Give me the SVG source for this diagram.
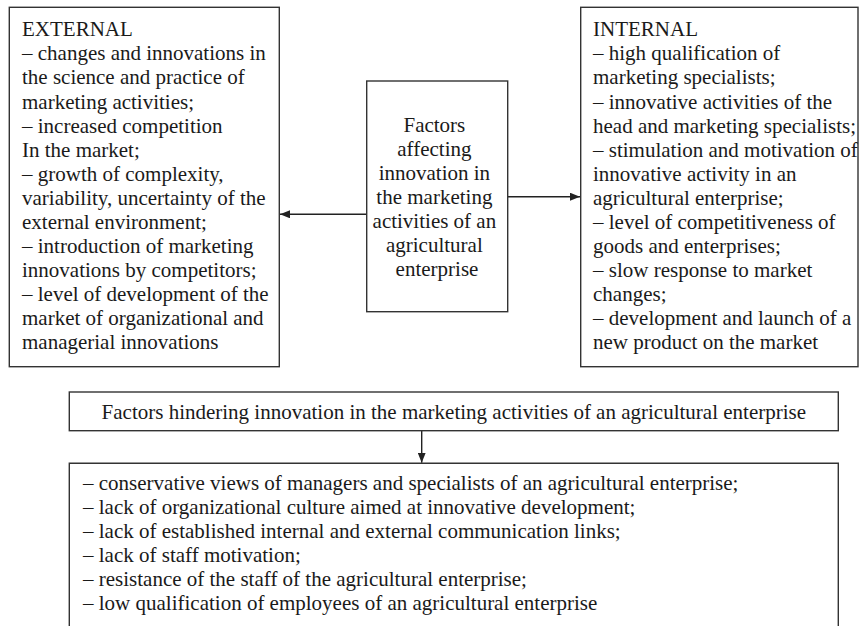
<svg xmlns="http://www.w3.org/2000/svg" width="859" height="626" viewBox="0 0 859 626">
<defs>
<style>
.box{fill:#fff;stroke:#333;stroke-width:1.4}
.t{font-family:"Liberation Serif","Times New Roman",serif;font-size:21px;fill:#1a1a1a}
.c{text-anchor:middle}
.ln{stroke:#222;stroke-width:1.4;fill:none}
</style>
<marker id="ah" markerWidth="10" markerHeight="8" refX="10" refY="4" orient="auto" markerUnits="userSpaceOnUse">
<path d="M0,0 L10,4 L0,8 Z" fill="#222"/>
</marker>
</defs>
<rect width="859" height="626" fill="#fff"/>
<g id="connectors">
<line class="ln" x1="366.7" y1="214.3" x2="280" y2="214.3" marker-end="url(#ah)"/>
<line class="ln" x1="507.7" y1="196.7" x2="580" y2="196.7" marker-end="url(#ah)"/>
<line class="ln" x1="421.7" y1="430.7" x2="421.7" y2="462.8" marker-end="url(#ah)"/>
</g>
<g id="external">
<rect class="box" x="9.3" y="7.3" width="270" height="359.4"/>
<text class="t" x="22">
<tspan x="22" y="36.3">EXTERNAL</tspan>
<tspan x="22" y="60.4">– changes and innovations in</tspan>
<tspan x="22" y="84.4">the science and practice of</tspan>
<tspan x="22" y="108.5">marketing activities;</tspan>
<tspan x="22" y="132.5">– increased competition</tspan>
<tspan x="22" y="156.6">In the market;</tspan>
<tspan x="22" y="180.6">– growth of complexity,</tspan>
<tspan x="22" y="204.7">variability, uncertainty of the</tspan>
<tspan x="22" y="228.7">external environment;</tspan>
<tspan x="22" y="252.8">– introduction of marketing</tspan>
<tspan x="22" y="276.8">innovations by competitors;</tspan>
<tspan x="22" y="300.9">– level of development of the</tspan>
<tspan x="22" y="324.9">market of organizational and</tspan>
<tspan x="22" y="349">managerial innovations</tspan>
</text>
</g>
<g id="center">
<rect class="box" x="366.7" y="81" width="141" height="230.7"/>
<text class="t c">
<tspan x="437" y="131.7">Factors</tspan>
<tspan x="437" y="155.8">affecting</tspan>
<tspan x="437" y="179.8">innovation in</tspan>
<tspan x="437" y="203.9">the marketing</tspan>
<tspan x="437" y="227.9">activities of an</tspan>
<tspan x="437" y="252">agricultural</tspan>
<tspan x="437" y="276">enterprise</tspan>
</text>
</g>
<g id="internal">
<rect class="box" x="580.7" y="7.3" width="277.3" height="359.4"/>
<text class="t">
<tspan x="593" y="36.3">INTERNAL</tspan>
<tspan x="593" y="60.4">– high qualification of</tspan>
<tspan x="593" y="84.4">marketing specialists;</tspan>
<tspan x="593" y="108.5">– innovative activities of the</tspan>
<tspan x="593" y="132.5">head and marketing specialists;</tspan>
<tspan x="593" y="156.6">– stimulation and motivation of</tspan>
<tspan x="593" y="180.6">innovative activity in an</tspan>
<tspan x="593" y="204.7">agricultural enterprise;</tspan>
<tspan x="593" y="228.7">– level of competitiveness of</tspan>
<tspan x="593" y="252.8">goods and enterprises;</tspan>
<tspan x="593" y="276.8">– slow response to market</tspan>
<tspan x="593" y="300.9">changes;</tspan>
<tspan x="593" y="324.9">– development and launch of a</tspan>
<tspan x="593" y="349">new product on the market</tspan>
</text>
</g>
<g id="hindering">
<rect class="box" x="69.3" y="392" width="769" height="38.7"/>
<text class="t c" x="453.8" y="418.8">Factors hindering innovation in the marketing activities of an agricultural enterprise</text>
</g>
<g id="hindering-list">
<path class="box" d="M69.3,630 V463.3 H838.3 V630"/>
<text class="t">
<tspan x="83" y="489.7">– conservative views of managers and specialists of an agricultural enterprise;</tspan>
<tspan x="83" y="513.7">– lack of organizational culture aimed at innovative development;</tspan>
<tspan x="83" y="537.7">– lack of established internal and external communication links;</tspan>
<tspan x="83" y="561.7">– lack of staff motivation;</tspan>
<tspan x="83" y="585.7">– resistance of the staff of the agricultural enterprise;</tspan>
<tspan x="83" y="609.7">– low qualification of employees of an agricultural enterprise</tspan>
</text>
</g>
</svg>
